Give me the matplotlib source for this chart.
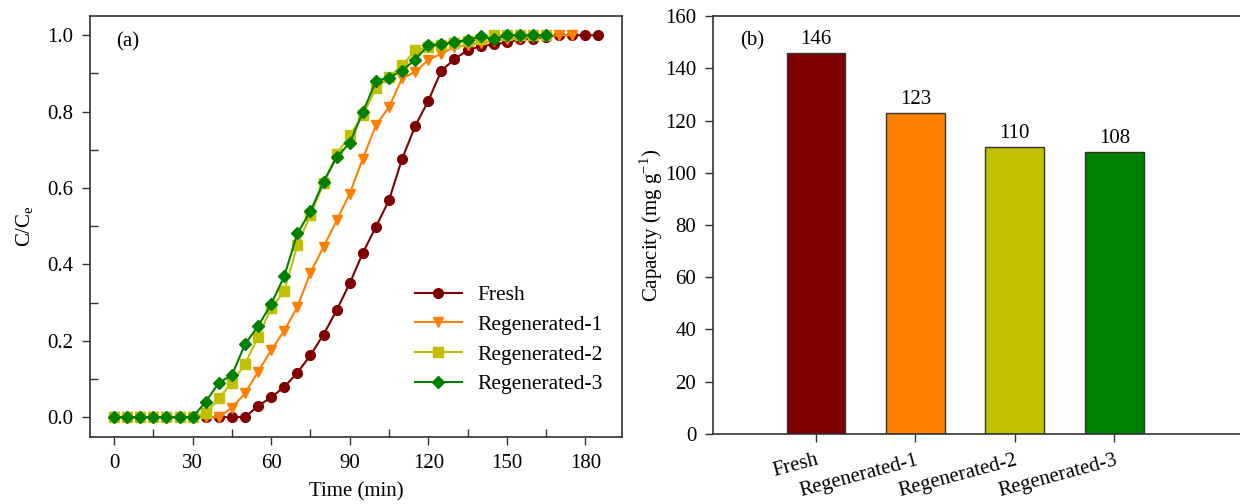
import numpy as np
import matplotlib
matplotlib.use("Agg")
import matplotlib.pyplot as plt
from matplotlib.ticker import MultipleLocator

plt.rcParams['font.family'] = ['Liberation Serif', 'DejaVu Serif']
plt.rcParams['mathtext.fontset'] = 'custom'
plt.rcParams['mathtext.rm'] = 'Liberation Serif'
plt.rcParams['font.size'] = 15

# (a) breakthrough curves, C/Ce vs time (min)
t_fresh = np.arange(0, 190, 5)
c_fresh = [0, 0, 0, 0, 0, 0, 0, 0, 0, 0, 0, 0.029, 0.052, 0.079, 0.116, 0.162,
           0.216, 0.28, 0.35, 0.43, 0.498, 0.568, 0.676, 0.762, 0.828, 0.907,
           0.937, 0.961, 0.971, 0.976, 0.981, 0.989, 0.99, 0.995, 1.0, 1.0, 1.0, 1.0]

t_reg1 = np.arange(0, 180, 5)
c_reg1 = [0, 0, 0, 0, 0, 0, 0, 0, 0, 0.025, 0.062, 0.119, 0.175, 0.226, 0.289,
          0.378, 0.446, 0.515, 0.585, 0.677, 0.764, 0.812, 0.887, 0.904, 0.935,
          0.952, 0.969, 0.975, 0.98, 0.985, 0.99, 0.993, 0.995, 0.998, 1.0, 1.0]

t_reg2 = np.arange(0, 170, 5)
c_reg2 = [0, 0, 0, 0, 0, 0, 0, 0.01, 0.049, 0.09, 0.139, 0.21, 0.285, 0.33,
          0.45, 0.529, 0.612, 0.688, 0.738, 0.79, 0.861, 0.89, 0.921, 0.96,
          0.97, 0.975, 0.98, 0.985, 0.99, 1.0, 1.0, 1.0, 1.0, 1.0]

t_reg3 = np.arange(0, 170, 5)
c_reg3 = [0, 0, 0, 0, 0, 0, 0, 0.04, 0.09, 0.11, 0.191, 0.238, 0.296, 0.369,
          0.481, 0.539, 0.616, 0.68, 0.718, 0.798, 0.88, 0.889, 0.907, 0.936,
          0.974, 0.976, 0.983, 0.987, 0.997, 0.989, 1.0, 1.0, 1.0, 1.0]

# (b) adsorption capacity
samples = ['Fresh', 'Regenerated-1', 'Regenerated-2', 'Regenerated-3']
capacity = [146, 123, 110, 108]

colors = ['#800000', '#FF8000', '#C0C000', '#008000']
spine_col = '#333333'

fig = plt.figure(figsize=(12.4, 5.04), dpi=100)

# ---- panel (a)
ax1 = fig.add_axes([0.0726, 0.133, 0.429, 0.835])
series = [(t_fresh, c_fresh, 'o', 7, 'Fresh'),
          (t_reg1, c_reg1, 'v', 7.5, 'Regenerated-1'),
          (t_reg2, c_reg2, 's', 6.5, 'Regenerated-2'),
          (t_reg3, c_reg3, 'D', 6.5, 'Regenerated-3')]
for (tt, cc, mk, ms, lab), col in zip(series, colors):
    ax1.plot(tt, cc, marker=mk, ms=ms, color=col, lw=1.5, label=lab)

ax1.set_xlim(-9.2, 194)
ax1.set_ylim(-0.052, 1.05)
ax1.xaxis.set_major_locator(MultipleLocator(30))
ax1.xaxis.set_minor_locator(MultipleLocator(15))
ax1.yaxis.set_major_locator(MultipleLocator(0.2))
ax1.yaxis.set_minor_locator(MultipleLocator(0.1))
ax1.yaxis.set_major_formatter(matplotlib.ticker.FormatStrFormatter('%.1f'))
ax1.tick_params(which='major', direction='out', length=6, width=1, color=spine_col, pad=6)
ax1.tick_params(which='minor', direction='in', length=6, width=1, color=spine_col)
ax1.set_xlabel('Time (min)', labelpad=7)
ax1.set_ylabel(r'C/C$_\mathregular{e}$', labelpad=8)
ax1.text(0.05, 0.94, '(a)', transform=ax1.transAxes, va='center')
ax1.legend(loc='lower right', bbox_to_anchor=(1.0, 0.055), frameon=False,
           handlelength=2.2, handletextpad=0.7, labelspacing=0.45, fontsize=15.5)

# ---- panel (b)
ax2 = fig.add_axes([0.575, 0.139, 0.48, 0.829])
x = np.arange(len(samples))
bars = ax2.bar(x, capacity, width=0.59, color=colors, edgecolor='#333333', linewidth=1)
for xi, v in zip(x, capacity):
    ax2.text(xi, v + 1.5, str(v), ha='center', va='bottom', fontsize=15)
ax2.set_xlim(-1.035, 4.95)
ax2.set_ylim(0, 160)
ax2.yaxis.set_major_locator(MultipleLocator(20))
ax2.set_xticks(x)
ax2.set_xticklabels(samples, rotation=15, ha='right', rotation_mode='anchor')
ax2.tick_params(which='major', direction='out', length=6, width=1, color=spine_col, pad=6)
ax2.set_ylabel(r'Capacity (mg g$^{\mathregular{-1}}$)', labelpad=0)
ax2.text(0.045, 0.94, '(b)', transform=ax2.transAxes, va='center')

for ax in (ax1, ax2):
    for s in ax.spines.values():
        s.set_color(spine_col)
        s.set_linewidth(1.2)

fig.savefig('out.png', dpi=100)
